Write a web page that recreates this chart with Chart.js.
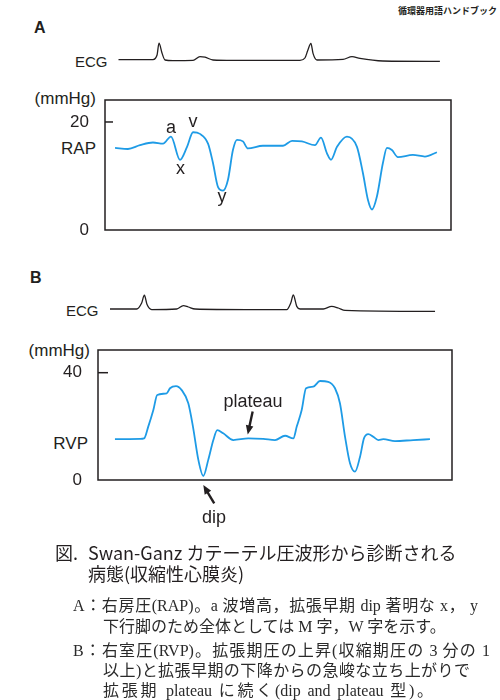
<!DOCTYPE html>
<html>
<head>
<meta charset="utf-8">
<script src="https://cdn.jsdelivr.net/npm/chart.js@4/dist/chart.umd.min.js"></script>
<style>
  body { margin: 0; width: 500px; height: 700px; position: relative; overflow: hidden; background: #fff;
         font-family: "Liberation Sans", Arial, sans-serif; color: #231f20; }
  .t { position: absolute; white-space: nowrap; line-height: 1; }
  .r { text-align: right; }
  .cj { font-family: "Noto Sans CJK JP", sans-serif; }
  .pa { font-family: "Liberation Serif", "Noto Sans CJK JP", serif; font-size: 16px; color: #2a2a2a;
        text-align: justify; text-align-last: justify; }
  canvas { position: absolute; }
</style>
</head>
<body>

<div class="t cj" style="right:3px;top:6px;font-size:9px;font-weight:bold;">循環器用語ハンドブック</div>

<div class="t" style="left:34px;top:19.5px;font-size:16px;font-weight:bold;">A</div>
<div class="t" style="left:75px;top:54px;font-size:15px;">ECG</div>
<div class="t r" style="right:404px;top:90px;font-size:17px;">(mmHg)</div>
<div class="t r" style="right:404px;top:140px;font-size:17px;">RAP</div>

<div class="t" style="left:30px;top:269.5px;font-size:16px;font-weight:bold;">B</div>
<div class="t" style="left:66px;top:303px;font-size:15px;">ECG</div>
<div class="t r" style="right:410px;top:342px;font-size:17px;">(mmHg)</div>
<div class="t r" style="right:412px;top:435px;font-size:17px;">RVP</div>

<canvas id="ecgA" width="346" height="26" style="left:105px;top:40px;"></canvas>
<canvas id="rap" width="500" height="150" style="left:0;top:90px;"></canvas>
<canvas id="ecgB" width="354" height="26" style="left:98px;top:289px;"></canvas>
<canvas id="rvp" width="500" height="200" style="left:0;top:340px;"></canvas>

<div class="t cj" style="left:55px;top:543px;font-size:18px;">図.</div>
<div class="t cj" style="left:88px;top:543px;font-size:18px;">Swan-Ganz カテーテル圧波形から診断される</div>
<div class="t cj" style="left:88px;top:564px;font-size:18px;">病態(収縮性心膜炎)</div>

<div class="t pa" style="left:73px;top:598px;width:405px;">A：右房圧(RAP)。a 波増高，拡張早期 dip 著明な x， y</div>
<div class="t pa" style="left:103px;top:619px;width:331px;">下行脚のため全体としては M 字，W 字を示す。</div>
<div class="t pa" style="left:73px;top:643px;width:417px;">B：右室圧(RVP)。拡張期圧の上昇(収縮期圧の 3 分の 1</div>
<div class="t pa" style="left:103px;top:663px;width:367px;">以上)と拡張早期の下降からの急峻な立ち上がりで</div>
<div class="t pa" style="left:103px;top:683px;width:330px;">拡張期 plateau に続く(dip and plateau 型)。</div>

<script>
// time in seconds, ECG in mV, pressures in mmHg
const ecgATime = [0.09, 0.32, 0.347, 0.36, 0.38, 0.40, 0.453, 0.587, 0.633, 0.667, 0.72, 0.853,
                  1.30, 1.333, 1.353, 1.373, 1.387, 1.413, 1.587, 1.647, 1.70, 1.853, 2.233];
const ecgAmV = [0.02, 0.02, 0.25, 0.84, 0.35, 0, -0.03, -0.02, 0.17, 0.14, 0, -0.02,
                -0.02, 0.1, 0.5, 0.83, 0.33, 0, 0.03, 0.17, 0.08, -0.05, -0.07];

const rapTime = [0.067, 0.153, 0.233, 0.32, 0.387, 0.44, 0.50, 0.547, 0.587, 0.633, 0.687, 0.72,
                 0.753, 0.787, 0.82, 0.853, 0.88, 0.92, 0.953, 1.053, 1.187, 1.247, 1.313, 1.40,
                 1.44, 1.48, 1.507, 1.547, 1.613, 1.68, 1.72, 1.753, 1.78, 1.813, 1.853, 1.88,
                 1.913, 1.953, 2.053, 2.133, 2.213];
const rapValue = [15.2, 15.0, 15.7, 16.2, 16.0, 17.3, 13.0, 15.4, 18.1, 17.8, 16.0, 12.4,
                  8.0, 7.3, 9.3, 14.8, 16.7, 16.4, 15.1, 15.6, 15.6, 16.5, 16.4, 15.7,
                  17.1, 14.2, 13.0, 15.4, 17.3, 15.4, 10.5, 5.6, 3.8, 6.2, 12.4, 15.2,
                  14.8, 13.5, 13.9, 13.6, 14.4];
const rapTicks = [0, 20];

const ecgBTime = [0.08, 0.258, 0.291, 0.309, 0.327, 0.358, 0.525, 0.569, 0.602, 0.647, 0.991,
                  1.258, 1.285, 1.302, 1.325, 1.347, 1.502, 1.558, 1.602, 1.647, 2.247];
const ecgBmV = [0, 0, 0.3, 0.69, 0.22, -0.03, 0, 0.17, 0.1, 0, -0.03,
                -0.03, 0.3, 0.7, 0.13, 0, 0, 0.13, 0.05, -0.07, -0.12];

const rvpTime = [0.113, 0.28, 0.307, 0.335, 0.369, 0.395, 0.458, 0.48, 0.52, 0.558, 0.602, 0.633,
                 0.669, 0.702, 0.735, 0.769, 0.795, 0.835, 0.902, 1.002, 1.102, 1.18, 1.247, 1.302,
                 1.325, 1.358, 1.387, 1.435, 1.48, 1.535, 1.58, 1.613, 1.647, 1.68, 1.713, 1.747,
                 1.773, 1.802, 1.835, 1.869, 1.902, 1.98, 2.102, 2.213];
const rvpValue = [15.2, 15.3, 15.5, 19.9, 26.1, 31.7, 32.3, 34.2, 35.0, 33.5, 28.6, 19.9,
                  7.5, 1.5, 7.5, 14.9, 18.6, 17.4, 14.9, 15.5, 15.3, 14.9, 16.5, 15.5,
                  19.9, 26.1, 34.2, 34.8, 36.9, 36.6, 34.2, 28.6, 16.1, 6.2, 3.1, 8.7,
                  15.5, 17.1, 16.1, 14.9, 15.2, 14.5, 14.9, 15.2];
const rvpTicks = [0, 40];

// wave labels, anchored at (time, mmHg)
const rapLabels = ['a', 'v', 'x', 'y'];
const rapLabelTime = [0.44, 0.587, 0.503, 0.78];
const rapLabelValue = [18.0, 19.0, 10.3, 5.1];
const rvpLabels = ['plateau', 'dip'];
const rvpLabelTime = [1.033, 0.773];
const rvpLabelValue = [27.3, -16.2];
// arrows: tail -> tip
const rvpArrowTail = [[1.031, 25.5], [0.775, -8.7]];
const rvpArrowTip = [[0.998, 17.0], [0.702, -1.9]];

const ink = '#231f20';
const blue = '#1e9be6';
Chart.defaults.font.family = '"Liberation Sans", Arial, sans-serif';
Chart.defaults.color = ink;

const pts = (xs, ys) => xs.map((x, i) => ({x: x, y: ys[i]}));

// box around the plot, inner tick marks, wave labels and arrows
const frame = {
  id: 'frame',
  afterDatasetsDraw(chart) {
    const o = chart.config.options.frameOpts;
    if (!o) return;
    const ctx = chart.ctx, x = chart.scales.x, y = chart.scales.y;
    const l = x.getPixelForValue(x.min), r = x.getPixelForValue(x.max);
    const t = y.getPixelForValue(y.max), b = y.getPixelForValue(y.min);
    ctx.save();
    ctx.strokeStyle = ink;
    ctx.lineWidth = 1.5;
    ctx.beginPath();
    ctx.moveTo(l, t);
    ctx.lineTo(r, t);
    ctx.lineTo(r, b);
    ctx.lineTo(l, b);
    ctx.closePath();
    ctx.stroke();
    o.ticks.filter(v => v > 0).forEach(v => {
      const py = y.getPixelForValue(v);
      ctx.beginPath();
      ctx.moveTo(l, py);
      ctx.lineTo(l + o.tickLen, py);
      ctx.stroke();
    });
    ctx.restore();
  },
  afterDraw(chart) {
    const o = chart.config.options.frameOpts;
    if (!o) return;
    const ctx = chart.ctx, x = chart.scales.x, y = chart.scales.y;
    ctx.save();
    ctx.fillStyle = ink;
    ctx.strokeStyle = ink;
    ctx.font = '18px "Liberation Sans", Arial, sans-serif';
    ctx.textAlign = 'center';
    ctx.textBaseline = 'alphabetic';
    o.labels.forEach((s, i) => {
      ctx.fillText(s, x.getPixelForValue(o.lt[i]), y.getPixelForValue(o.lv[i]));
    });
    (o.tails || []).forEach((f, i) => {
      const x0 = x.getPixelForValue(f[0]), y0 = y.getPixelForValue(f[1]);
      const x1 = x.getPixelForValue(o.tips[i][0]), y1 = y.getPixelForValue(o.tips[i][1]);
      const ang = Math.atan2(y1 - y0, x1 - x0), len = 9, hw = 3.8;
      const c = Math.cos(ang), s = Math.sin(ang);
      ctx.lineWidth = 2.4;
      ctx.beginPath();
      ctx.moveTo(x0, y0);
      ctx.lineTo(x1 - c * len * 0.8, y1 - s * len * 0.8);
      ctx.stroke();
      ctx.beginPath();
      ctx.moveTo(x1, y1);
      ctx.lineTo(x1 - c * len - s * hw, y1 - s * len + c * hw);
      ctx.lineTo(x1 - c * len + s * hw, y1 - s * len - c * hw);
      ctx.closePath();
      ctx.fill();
    });
    ctx.restore();
  }
};

function ecgChart(id, xs, ys, span) {
  return new Chart(document.getElementById(id), {
    type: 'line',
    data: { datasets: [{ data: pts(xs, ys), borderColor: ink, borderWidth: 1.3, pointRadius: 0,
                         tension: 0.4, cubicInterpolationMode: 'monotone', clip: false }] },
    options: {
      responsive: false, animation: false, events: [],
      layout: { padding: 0 },
      plugins: { legend: { display: false }, tooltip: { enabled: false } },
      scales: {
        x: { type: 'linear', min: 0, max: span, display: false },
        y: { min: -0.3, max: 1.0, display: false }
      }
    }
  });
}

function pressureChart(id, xs, ys, span, top, ticks, axisW, padRight, padBottom, tickLen, marks) {
  return new Chart(document.getElementById(id), {
    type: 'line',
    data: { datasets: [{ data: pts(xs, ys), borderColor: blue, borderWidth: 1.8, pointRadius: 0,
                         tension: 0.4, cubicInterpolationMode: 'monotone' }] },
    options: {
      responsive: false, animation: false, events: [],
      layout: { padding: { left: 0, right: padRight, top: 10, bottom: padBottom } },
      plugins: { legend: { display: false }, tooltip: { enabled: false } },
      frameOpts: Object.assign({ ticks: ticks, tickLen: tickLen }, marks),
      scales: {
        x: { type: 'linear', min: 0, max: span, display: false },
        y: {
          min: 0, max: top,
          afterBuildTicks: s => { s.ticks = ticks.map(v => ({ value: v })); },
          afterFit: s => { s.width = axisW; s.paddingTop = 0; s.paddingBottom = 0; },
          grid: { display: false }, border: { display: false },
          ticks: { padding: 8, color: ink, font: { size: 17 } }
        }
      }
    },
    plugins: [frame]
  });
}

ecgChart('ecgA', ecgATime, ecgAmV, 2.307);
pressureChart('rap', rapTime, rapValue, 2.307, 24.07, rapTicks, 105, 49, 10, 8,
  { labels: rapLabels, lt: rapLabelTime, lv: rapLabelValue });
ecgChart('ecgB', ecgBTime, ecgBmV, 2.36);
pressureChart('rvp', rvpTime, rvpValue, 2.36, 48.46, rvpTicks, 98, 48, 60, 10,
  { labels: rvpLabels, lt: rvpLabelTime, lv: rvpLabelValue, tails: rvpArrowTail, tips: rvpArrowTip });
</script>
</body>
</html>
